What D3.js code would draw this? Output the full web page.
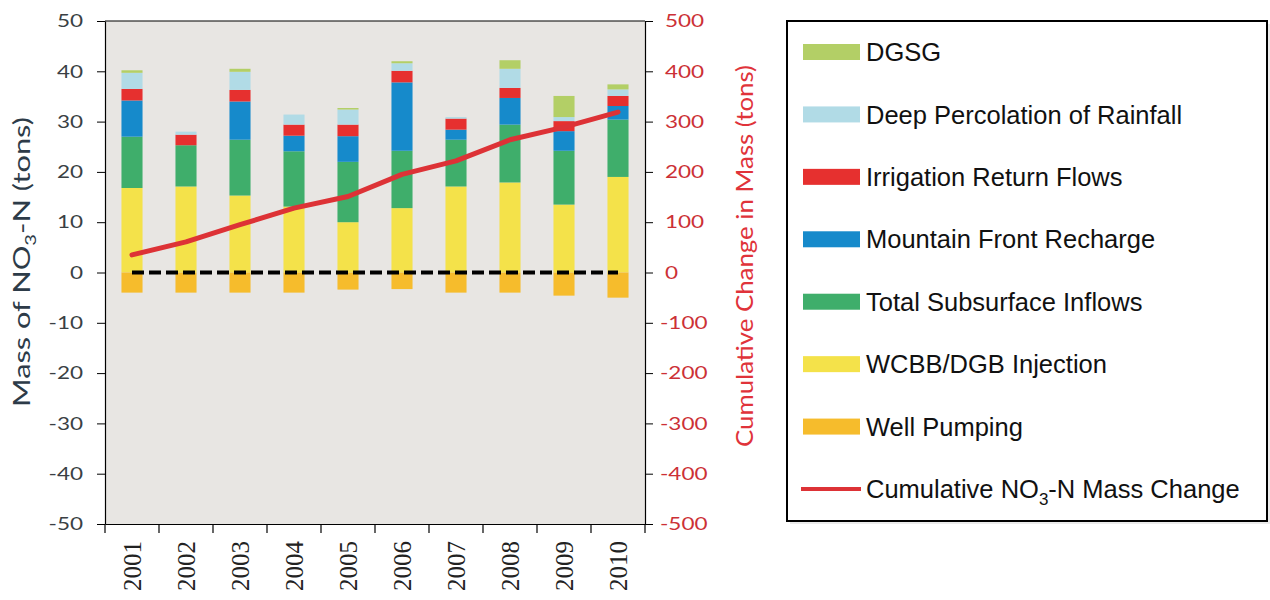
<!DOCTYPE html>
<html>
<head>
<meta charset="utf-8">
<script src="https://cdn.jsdelivr.net/npm/d3@7"></script>
<style>
  html, body { margin: 0; padding: 0; background: #ffffff; }
  svg { display: block; }
</style>
</head>
<body>
<svg id="chart" width="1270" height="600"></svg>
<script>
// ---------- DATA ----------
const years = ["2001","2002","2003","2004","2005","2006","2007","2008","2009","2010"];
const wcbbInjection   = [16.8, 17.1, 15.3, 13.1, 10.0, 12.8, 17.1, 17.9, 13.5, 19.0];
const subsurfaceInflow= [10.2,  8.2, 11.1, 11.0, 12.0, 11.4,  9.3, 11.5, 10.7, 11.4];
const mountainFront   = [ 7.2,  0.0,  7.6,  3.1,  5.1, 13.6,  2.0,  5.3,  3.9,  2.7];
const irrigationReturn= [ 2.3,  2.1,  2.3,  2.2,  2.3,  2.3,  2.2,  2.0,  2.0,  2.0];
const deepPercolation = [ 3.2,  0.6,  3.6,  2.0,  3.0,  1.5,  0.3,  3.8,  0.8,  1.3];
const dgsg            = [ 0.5,  0.0,  0.6,  0.0,  0.3,  0.4,  0.0,  1.7,  4.2,  1.0];
const wellPumping     = [-4.0, -4.0, -4.0, -4.0, -3.4, -3.3, -4.0, -4.0, -4.6, -5.0];
const cumulativeChange= [  35,   61,   95,  128,  151,  195,  222,  264,  289,  319];
const zeroReference   = [   0,    0,    0,    0,    0,    0,    0,    0,    0,    0];
const leftTicks  = [50,40,30,20,10,0,-10,-20,-30,-40,-50];
const rightTicks = [500,400,300,200,100,0,-100,-200,-300,-400,-500];

const seriesNames = ["WCBB/DGB Injection","Total Subsurface Inflows","Mountain Front Recharge",
                     "Irrigation Return Flows","Deep Percolation of Rainfall","DGSG","Well Pumping"];
const seriesValues = [wcbbInjection, subsurfaceInflow, mountainFront, irrigationReturn, deepPercolation, dgsg, wellPumping];
const seriesColors = ["#f4e24a","#3fae6b","#168acb","#e6302f","#b1dbe6","#b3cf66","#f6bc2c"];
const legendOrder  = ["DGSG","Deep Percolation of Rainfall","Irrigation Return Flows","Mountain Front Recharge",
                      "Total Subsurface Inflows","WCBB/DGB Injection","Well Pumping"];
const lineColor = "#dd3236";

// ---------- LAYOUT ----------
const svg = d3.select("#chart");
const plot = {left: 105, right: 645, top: 21, bottom: 524};

const x = d3.scaleBand().domain(years).range([plot.left, plot.right]).padding(0);
const yL = d3.scaleLinear().domain([-50, 50]).range([plot.bottom, plot.top]);
const yR = d3.scaleLinear().domain([-500, 500]).range([plot.bottom, plot.top]);
const barW = x.bandwidth() * 0.39;

// plot background
svg.append("rect")
  .attr("x", plot.left).attr("y", plot.top)
  .attr("width", plot.right - plot.left).attr("height", plot.bottom - plot.top)
  .attr("fill", "#e8e6e3");

// stacked bars
const table = years.map((yr, i) => {
  const row = {year: yr};
  seriesNames.forEach((n, k) => row[n] = seriesValues[k][i]);
  return row;
});
const stack = d3.stack().keys(seriesNames).offset(d3.stackOffsetDiverging);
const stacked = stack(table);

svg.append("g").selectAll("g")
  .data(stacked).join("g")
  .attr("fill", (d, k) => seriesColors[k])
  .selectAll("rect")
  .data(d => d).join("rect")
  .attr("x", d => x(d.data.year) + (x.bandwidth() - barW) / 2)
  .attr("width", barW)
  .attr("y", d => yL(Math.max(d[0], d[1])))
  .attr("height", d => Math.abs(yL(d[0]) - yL(d[1])));

// dashed zero line
const line0 = d3.line().x((d, i) => x(years[i]) + x.bandwidth() / 2).y(d => yL(d));
svg.append("path")
  .datum(zeroReference)
  .attr("d", line0)
  .attr("fill", "none").attr("stroke", "#000").attr("stroke-width", 4)
  .attr("stroke-dasharray", "12,5");

// cumulative line
const lineC = d3.line().x((d, i) => x(years[i]) + x.bandwidth() / 2).y(d => yR(d));
svg.append("path")
  .datum(cumulativeChange)
  .attr("d", lineC)
  .attr("fill", "none").attr("stroke", lineColor).attr("stroke-width", 5)
  .attr("stroke-linecap", "round").attr("stroke-linejoin", "round");

// top frame line
svg.append("line")
  .attr("x1", plot.left).attr("x2", plot.right)
  .attr("y1", plot.top).attr("y2", plot.top)
  .attr("stroke", "#000").attr("stroke-width", 1.2);

// ---------- AXES ----------
const stretch = 1.25;
const fmt = d => String(d);
const gL = svg.append("g").attr("transform", `translate(${plot.left},0)`)
  .call(d3.axisLeft(yL).tickValues(leftTicks).tickFormat(fmt).tickSize(8).tickSizeOuter(0).tickPadding(14));
gL.select(".domain").attr("stroke", "#000").attr("stroke-width", 1.2);
gL.selectAll(".tick line").attr("stroke", "#000");
gL.selectAll(".tick text")
  .style("font-family", "Lato, 'Open Sans', sans-serif").style("font-size", "18px")
  .attr("fill", "#3a3f44")
  .attr("x", -22 / stretch)
  .attr("transform", `scale(${stretch},1)`);

const gR = svg.append("g").attr("transform", `translate(${plot.right},0)`)
  .call(d3.axisRight(yR).tickValues(rightTicks).tickFormat(fmt).tickSize(8).tickSizeOuter(0));
gR.select(".domain").attr("stroke", "#000").attr("stroke-width", 1.2);
gR.selectAll(".tick line").attr("stroke", "#000");
gR.selectAll(".tick text")
  .style("font-family", "Lato, 'Open Sans', sans-serif").style("font-size", "18px")
  .attr("fill", "#cc3036")
  .attr("x", d => (d < 0 ? 15 : 20) / stretch)
  .attr("transform", `scale(${stretch},1)`);

const gB = svg.append("g").attr("transform", `translate(0,${plot.bottom})`)
  .call(d3.axisBottom(x).tickSize(0).tickSizeOuter(0));
gB.attr("font-family", "Liberation Serif").attr("font-size", 25);
gB.select(".domain").attr("stroke", "#000").attr("stroke-width", 1.2);
gB.selectAll(".tick text")
  .attr("font-family", "Liberation Serif")
  .attr("font-size", 25)
  .attr("fill", "#222")
  .attr("text-anchor", "end")
  .attr("transform", "rotate(-90)")
  .attr("x", -17).attr("y", 0).attr("dy", "0.35em");
// boundary ticks on x axis
const boundaries = years.map(y => x(y)).concat([plot.right]);
gB.selectAll(".btick").data(boundaries).join("line")
  .attr("class", "btick")
  .attr("x1", d => d).attr("x2", d => d)
  .attr("y1", 0).attr("y2", 9)
  .attr("stroke", "#000").attr("stroke-width", 1.2);

// axis titles
const tL = svg.append("text")
  .attr("transform", "translate(30,262) rotate(-90)")
  .attr("text-anchor", "middle")
  .style("font-family", "Lato, 'Open Sans', sans-serif").style("font-size", "23px")
  .attr("fill", "#2d3b48")
  .attr("textLength", 290).attr("lengthAdjust", "spacingAndGlyphs");
tL.append("tspan").text("Mass of NO");
tL.append("tspan").text("3").style("font-size", "15px").attr("dy", 6);
tL.append("tspan").text("-N  (tons)").attr("dy", -6);

svg.append("text")
  .attr("transform", "translate(753,256) rotate(-90)")
  .attr("text-anchor", "middle")
  .style("font-family", "Lato, 'Open Sans', sans-serif").style("font-size", "23px")
  .attr("fill", "#e0333a")
  .attr("textLength", 382).attr("lengthAdjust", "spacingAndGlyphs")
  .text("Cumulative Change in Mass (tons)");

// ---------- LEGEND ----------
const lg = svg.append("g");
lg.append("rect")
  .attr("x", 790).attr("y", 24).attr("width", 480).attr("height", 500)
  .attr("fill", "#dddddd").attr("opacity", 0.6);
lg.append("rect")
  .attr("x", 787).attr("y", 21).attr("width", 480).attr("height", 500)
  .attr("fill", "#fff").attr("stroke", "#000").attr("stroke-width", 2);

const legendItems = legendOrder.map(n => ({name: n, color: seriesColors[seriesNames.indexOf(n)], type: "rect"}))
  .concat([{name: "Cumulative NO3-N Mass Change", color: lineColor, type: "line"}]);
const legendY = d3.scalePoint().domain(legendItems.map(d => d.name)).range([52, 489]);

const li = lg.selectAll(".li").data(legendItems).join("g")
  .attr("class", "li")
  .attr("transform", d => `translate(803,${legendY(d.name)})`);
li.filter(d => d.type === "rect").append("rect")
  .attr("x", 0).attr("y", -8).attr("width", 57).attr("height", 16)
  .attr("fill", d => d.color);
li.filter(d => d.type === "line").append("line")
  .attr("x1", -2).attr("x2", 58).attr("y1", 0).attr("y2", 0)
  .attr("stroke", d => d.color).attr("stroke-width", 4);
const lt = li.append("text")
  .attr("x", 63).attr("y", 0).attr("dy", "0.36em")
  .style("font-family", "'Liberation Sans', Arial, sans-serif").style("font-size", "25.5px")
  .attr("fill", "#111");
lt.filter(d => d.type === "rect").text(d => d.name);
const ltl = lt.filter(d => d.type === "line");
ltl.append("tspan").text("Cumulative NO");
ltl.append("tspan").text("3").style("font-size", "17px").attr("dy", 7);
ltl.append("tspan").text("-N Mass Change").attr("dy", -7);
</script>
</body>
</html>
